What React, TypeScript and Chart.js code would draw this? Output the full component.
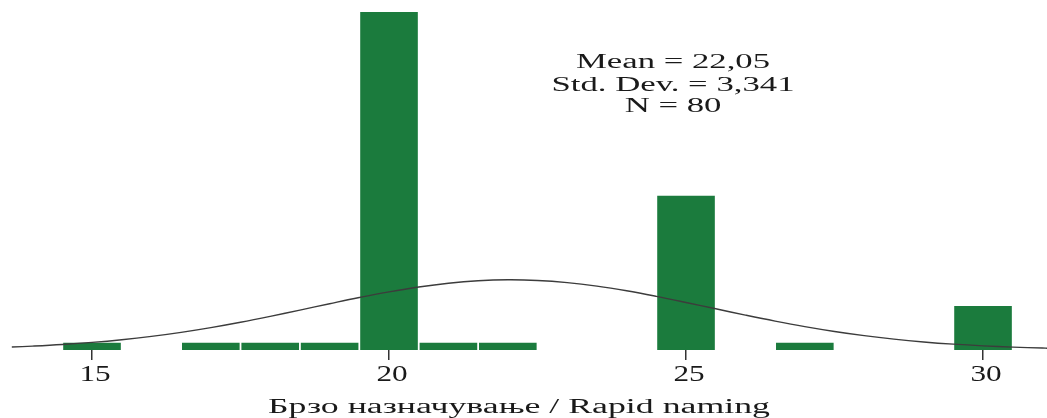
import React, { useEffect, useRef } from "react";
import { Chart, registerables } from "chart.js";

Chart.register(...registerables);

// Histogram bins (bin centre, frequency)
const binCenters = [15, 17, 18, 19, 20, 21, 22, 25, 27, 30];
const frequencies = [1, 1, 1, 1, 46, 1, 1, 21, 1, 6];

// Fitted normal curve (x value, frequency scale)
const curveX = [
  13.65, 14, 14.5, 15, 15.5, 16, 16.5, 17, 17.5, 18, 18.5, 19, 19.5, 20, 20.5, 21,
  21.5, 22, 22.5, 23, 23.5, 24, 24.5, 25, 25.5, 26, 26.5, 27, 27.5, 28, 28.5, 29,
  29.5, 30, 30.5, 31, 31.1,
];
const curveY = [
  0.405, 0.524, 0.744, 1.031, 1.397, 1.853, 2.404, 3.048, 3.779, 4.582, 5.433, 6.297,
  7.139, 7.914, 8.579, 9.093, 9.424, 9.552, 9.467, 9.175, 8.694, 8.057, 7.3, 6.469,
  5.606, 4.749, 3.935, 3.188, 2.526, 1.956, 1.482, 1.098, 0.795, 0.563, 0.39, 0.264,
  0.244,
];

const tickValues = [15, 20, 25, 30];
const xTitle = "Брзо назначување / Rapid naming";
const statsLines = ["Mean = 22,05", "Std. Dev. = 3,341", "N = 80"];

const textPlugin = {
  id: "stretchedText",
  afterDraw(chart: any) {
    const ctx = chart.ctx as CanvasRenderingContext2D;
    const xs = chart.scales.x;
    ctx.save();
    ctx.fillStyle = "#1a1a1a";
    ctx.textAlign = "center";
    ctx.textBaseline = "alphabetic";

    // tick labels
    ctx.font = '24px "Liberation Serif"';
    for (const v of tickValues) {
      const px = xs.getPixelForValue(v) + 3;
      ctx.save();
      ctx.translate(px, 380.5);
      ctx.scale(1.3, 1);
      ctx.fillText(String(v), 0, 0);
      ctx.restore();
    }

    // axis title
    ctx.font = '20px "Liberation Serif"';
    const tw = ctx.measureText(xTitle).width;
    const ts = 502 / tw;
    ctx.save();
    ctx.translate(519, 412.5);
    ctx.scale(ts, 1);
    ctx.fillText(xTitle, 0, 0);
    ctx.restore();

    // stats
    ctx.font = '20px "Liberation Serif"';
    const sw = ctx.measureText(statsLines[1]).width;
    const ss = 243 / sw;
    const baselines = [68, 90.5, 111.5];
    statsLines.forEach((line, i) => {
      ctx.save();
      ctx.translate(673, baselines[i]);
      ctx.scale(ss, 1);
      ctx.fillText(line, 0, 0);
      ctx.restore();
    });
    ctx.restore();
  },
};

export default function App() {
  const ref = useRef<HTMLCanvasElement>(null);

  useEffect(() => {
    if (!ref.current) return;
    const chart = new Chart(ref.current, {
      type: "bar",
      data: {
        datasets: [
          {
            type: "line",
            data: curveX.map((x, i) => ({ x, y: curveY[i] })),
            borderColor: "#3c3c3c",
            borderWidth: 1.4,
            pointRadius: 0,
            tension: 0.4,
            fill: false,
            order: 0,
          } as any,
          {
            type: "bar",
            data: binCenters.map((x, i) => ({ x, y: frequencies[i] })),
            backgroundColor: "#1b7b3d",
            borderWidth: 0,
            barPercentage: 0.97,
            categoryPercentage: 1,
            order: 1,
          },
        ],
      },
      options: {
        animation: false,
        responsive: true,
        maintainAspectRatio: false,
        layout: { padding: 0 },
        plugins: { legend: { display: false }, tooltip: { enabled: false } },
        scales: {
          x: {
            type: "linear",
            min: 13.451,
            max: 31.077,
            offset: false,
            grid: {
              offset: false,
              drawOnChartArea: false,
              drawTicks: true,
              tickLength: 10,
              color: "#333",
              lineWidth: 1.5,
            },
            border: { display: false },
            ticks: { display: false },
            afterBuildTicks: (s: any) => {
              s.ticks = tickValues.map((v) => ({ value: v }));
            },
            afterFit: (s: any) => {
              s.height = 68;
            },
          },
          y: {
            display: false,
            min: 0,
            max: 47.63,
          },
        },
      },
      plugins: [textPlugin],
    });
    return () => chart.destroy();
  }, []);

  return (
    <div
      style={{
        position: "fixed",
        left: 0,
        top: 0,
        width: 1047,
        height: 418,
        background: "#fff",
      }}
    >
      <canvas ref={ref} />
    </div>
  );
}
